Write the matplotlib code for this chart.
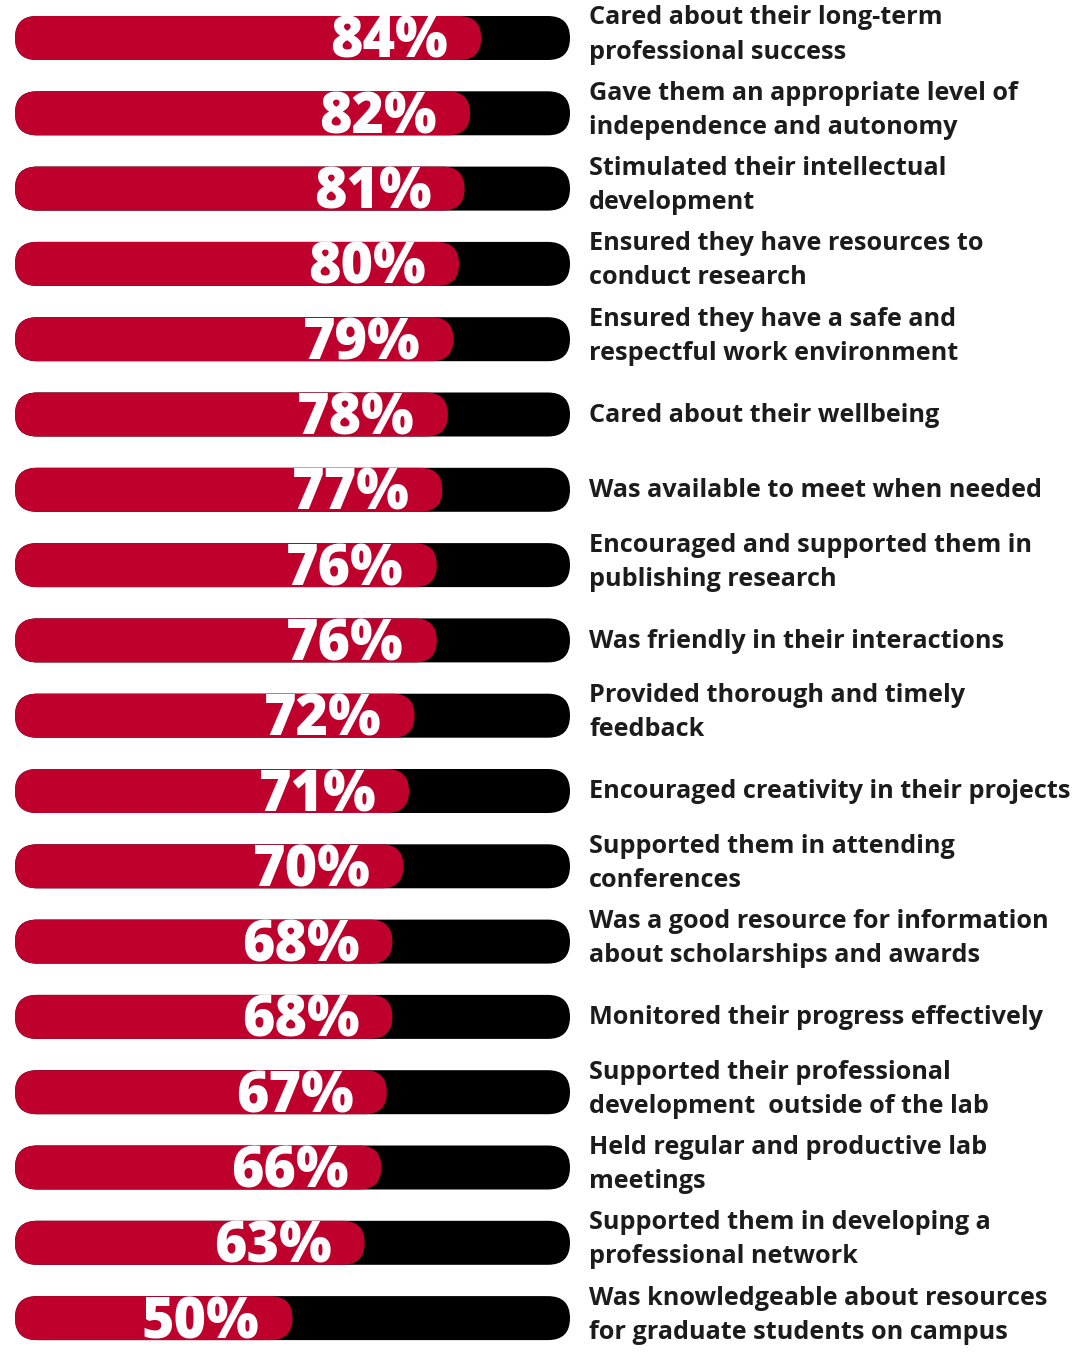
import matplotlib.pyplot as plt
from matplotlib.patches import FancyBboxPatch

# survey results, top to bottom
pcts = [84, 82, 81, 80, 79, 78, 77, 76, 76, 72, 71, 70, 68, 68, 67, 66, 63, 50]
items = [
    'Cared about their long-term\nprofessional success',
    'Gave them an appropriate level of\nindependence and autonomy',
    'Stimulated their intellectual\ndevelopment',
    'Ensured they have resources to\nconduct research',
    'Ensured they have a safe and\nrespectful work environment',
    'Cared about their wellbeing',
    'Was available to meet when needed',
    'Encouraged and supported them in\npublishing research',
    'Was friendly in their interactions',
    'Provided thorough and timely\nfeedback',
    'Encouraged creativity in their projects',
    'Supported them in attending\nconferences',
    'Was a good resource for information\nabout scholarships and awards',
    'Monitored their progress effectively',
    'Supported their professional\ndevelopment  outside of the lab',
    'Held regular and productive lab\nmeetings',
    'Supported them in developing a\nprofessional network',
    'Was knowledgeable about resources\nfor graduate students on campus',
]

RED = '#BF002D'
TXT = '#1c1c1c'

W, H = 1081, 1354
fig = plt.figure(figsize=(W / 100, H / 100), dpi=100)
ax = fig.add_axes([0, 0, 1, 1])
ax.axis('off')

# pixel layout -> data units
px_x = 5.55     # px per percent
x0 = 15         # px where 0% sits
px_y = 75.3     # px per row
y0 = 38         # px of first row centre
ax.set_xlim(-x0 / px_x, (W - x0) / px_x)
ax.set_ylim((H - y0) / px_y, -y0 / px_y)

bar_h = 44 / px_y
r = 22 / px_x
asp = px_x / px_y

def pill(ax, x_end, y, color):
    p = FancyBboxPatch((0, y - bar_h / 2), x_end, bar_h,
                       boxstyle=f'round,pad=0,rounding_size={r}',
                       mutation_aspect=asp, fc=color, ec='none')
    ax.add_patch(p)

for i, (v, lab) in enumerate(zip(pcts, items)):
    pill(ax, 100, i, 'black')
    pill(ax, v, i, RED)
    ax.annotate(f'{v}%', (v, i), xytext=(-33, -20), textcoords='offset pixels',
                ha='right', va='baseline', color='white', fontsize=40,
                family='Open Sans', weight='heavy', clip_on=True)
    dy = 3 if '\n' in lab else -1
    ax.annotate(lab, (100, i), xytext=(19, dy), textcoords='offset pixels',
                ha='left', va='center', color=TXT, fontsize=18.2,
                family='Open Sans', weight='bold', linespacing=1.48)

fig.savefig('out.png', dpi=100)
